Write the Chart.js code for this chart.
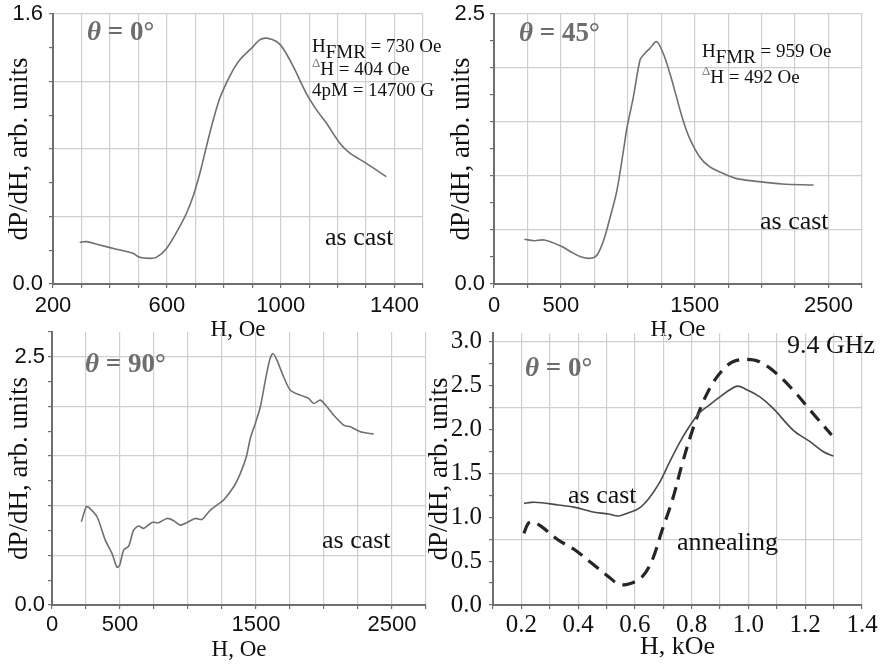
<!DOCTYPE html>
<html>
<head>
<meta charset="utf-8">
<script src="https://cdn.jsdelivr.net/npm/chart.js@4.4.1/dist/chart.umd.min.js"></script>
<style>
  body { margin: 0; background: #fff; }
  #wrap { position: relative; width: 884px; height: 664px; }
  canvas { position: absolute; left: 0; top: 0; }
</style>
</head>
<body>
<div id="wrap">
  <canvas id="c1" width="884" height="664"></canvas>
  <canvas id="c2" width="884" height="664"></canvas>
  <canvas id="c3" width="884" height="664"></canvas>
  <canvas id="c4" width="884" height="664"></canvas>
</div>
<script>
// theta = 0, as cast (H in Oe)
const h1 = [294, 318, 364, 423, 481, 505, 540, 563, 599, 645, 669, 692, 716, 739, 763, 786, 809, 833, 856, 903, 926, 950, 985, 1008, 1044, 1090, 1126, 1161, 1208, 1243, 1301, 1371];
const v1 = [0.247, 0.251, 0.231, 0.206, 0.182, 0.158, 0.152, 0.158, 0.211, 0.340, 0.419, 0.518, 0.656, 0.814, 0.972, 1.101, 1.190, 1.269, 1.328, 1.407, 1.447, 1.457, 1.437, 1.397, 1.289, 1.130, 1.032, 0.953, 0.834, 0.775, 0.715, 0.636];

// theta = 45, as cast
const h2 = [227, 301, 375, 499, 573, 647, 721, 770, 820, 869, 919, 968, 993, 1042, 1091, 1116, 1165, 1215, 1264, 1314, 1363, 1412, 1462, 1536, 1610, 1684, 1807, 1980, 2153, 2388];
const v2 = [0.414, 0.401, 0.407, 0.352, 0.299, 0.253, 0.238, 0.269, 0.407, 0.623, 0.870, 1.241, 1.441, 1.735, 2.074, 2.120, 2.182, 2.244, 2.136, 1.951, 1.735, 1.519, 1.349, 1.179, 1.086, 1.040, 0.978, 0.948, 0.926, 0.917];

// theta = 90, as cast
const h3 = [216, 252, 270, 331, 392, 441, 478, 498, 527, 564, 600, 637, 674, 735, 784, 846, 895, 944, 993, 1054, 1103, 1164, 1213, 1262, 1336, 1385, 1429, 1458, 1495, 1532, 1569, 1600, 1625, 1654, 1703, 1752, 1826, 1887, 1924, 1973, 2022, 2071, 2145, 2194, 2267, 2365];
const v3 = [0.839, 0.990, 0.983, 0.889, 0.654, 0.520, 0.379, 0.403, 0.554, 0.594, 0.755, 0.795, 0.772, 0.832, 0.829, 0.872, 0.849, 0.805, 0.832, 0.872, 0.862, 0.956, 1.007, 1.057, 1.191, 1.326, 1.493, 1.678, 1.829, 1.997, 2.265, 2.466, 2.534, 2.466, 2.299, 2.164, 2.114, 2.081, 2.030, 2.064, 1.997, 1.913, 1.812, 1.795, 1.745, 1.721];

// 9.4 GHz, theta = 0 (H in kOe)
const hCast = [0.209, 0.235, 0.271, 0.330, 0.389, 0.448, 0.507, 0.543, 0.578, 0.614, 0.649, 0.685, 0.720, 0.756, 0.791, 0.826, 0.862, 0.897, 0.933, 0.962, 0.992, 1.039, 1.087, 1.157, 1.217, 1.264, 1.299];
const vCast = [1.158, 1.170, 1.166, 1.139, 1.113, 1.063, 1.037, 1.014, 1.052, 1.101, 1.215, 1.386, 1.614, 1.842, 2.032, 2.184, 2.279, 2.366, 2.450, 2.495, 2.457, 2.374, 2.241, 1.994, 1.861, 1.747, 1.698];
const hAnneal = [0.209, 0.224, 0.241, 0.271, 0.330, 0.389, 0.448, 0.507, 0.543, 0.578, 0.626, 0.661, 0.696, 0.732, 0.767, 0.803, 0.838, 0.874, 0.909, 0.945, 0.992, 1.039, 1.098, 1.157, 1.217, 1.293];
const vAnneal = [0.817, 0.930, 0.949, 0.893, 0.741, 0.627, 0.475, 0.323, 0.239, 0.239, 0.323, 0.513, 0.855, 1.196, 1.614, 1.994, 2.298, 2.526, 2.678, 2.772, 2.799, 2.772, 2.640, 2.450, 2.222, 1.937];

// tick labels
const x1Labels = [200, 600, 1000, 1400];
const y1Labels = [0, 1.6];
const xOeLabels = [0, 500, 1500, 2500];
const y25Labels = [0, 2.5];
const x4Labels = [0.2, 0.4, 0.6, 0.8, 1.0, 1.2, 1.4];
const y4Labels = [0, 0.5, 1.0, 1.5, 2.0, 2.5, 3.0];

const SERIF = '"Liberation Serif", "Times New Roman", serif';
const SANS = '"Liberation Sans", Arial, sans-serif';
const axisCol = '#6f6f6f';
const gridCol = '#cfcfcf';
const curveCol = '#707070';
const yTitle = 'dP/dH, arb. units';

const hasVal = (list, v) => list.some(l => Math.abs(l - v) < 1e-6);
const gridAt = (v, every) => Math.abs(v / every - Math.round(v / every)) < 1e-6 ? gridCol : 'rgba(0,0,0,0)';

// text drawn on top of the plot, offsets from chart area top-left
function notes(list) {
  return {
    id: 'notes',
    afterDraw(chart) {
      const { ctx, chartArea } = chart;
      ctx.save();
      ctx.textBaseline = 'alphabetic';
      ctx.textAlign = 'left';
      list.forEach(n => {
        let x = chartArea.left + n.dx;
        n.parts.forEach(p => {
          ctx.font = p.font || n.font;
          ctx.fillStyle = p.color || n.color || '#111';
          ctx.fillText(p.t, x, chartArea.top + n.dy + (p.rise || 0));
          x += ctx.measureText(p.t).width;
        });
      });
      ctx.restore();
    }
  };
}

const thetaNote = (deg, dx, dy) => ({
  dx, dy, color: '#6d6d6d', font: 'bold 27px ' + SERIF,
  parts: [{ t: 'θ', font: 'italic bold 27px ' + SERIF }, { t: ' = ' + deg + '°' }]
});
const bigNote = (t, dx, dy) => ({ dx, dy, font: '26px ' + SERIF, parts: [{ t }] });
const small = '19px ' + SERIF;

function axis(o, horizontal) {
  return {
    type: 'linear', min: o.min, max: o.max,
    afterFit: s => {
      if (horizontal) { s.height = o.size; s.paddingLeft = 0; s.paddingRight = 0; }
      else { s.width = o.size; s.paddingTop = 0; s.paddingBottom = 0; }
    },
    grid: {
      color: c => gridAt(c.tick.value, o.grid), lineWidth: 1.2,
      tickLength: 4, tickColor: axisCol, tickWidth: 1.2
    },
    border: { color: axisCol, width: 2 },
    ticks: {
      stepSize: o.step, autoSkip: false, maxRotation: 0, minRotation: 0, includeBounds: false,
      padding: o.tickPad, font: o.tickFont, color: '#111',
      callback: v => hasVal(o.labels, v) ? v.toFixed(o.dec) : ''
    },
    title: {
      display: true, text: o.title, color: '#111',
      font: { family: SERIF, size: o.titleSize, lineHeight: 1 },
      padding: horizontal ? { top: 0, bottom: o.titlePad } : { top: o.titlePad, bottom: 0 }
    }
  };
}

function panel(id, o) {
  new Chart(document.getElementById(id), {
    type: 'line',
    data: {
      datasets: o.series.map(s => ({
        data: s.x.map((x, i) => ({ x, y: s.y[i] })),
        borderColor: s.color, borderWidth: s.width, borderDash: s.dash || [],
        pointRadius: 0, tension: s.tension, fill: false
      }))
    },
    options: {
      responsive: false, animation: false, devicePixelRatio: 1, events: [],
      layout: { padding: o.pad },
      plugins: { legend: { display: false }, tooltip: { enabled: false } },
      scales: { x: axis(o.x, true), y: axis(o.y, false) }
    },
    plugins: [notes(o.notes)]
  });
}

const sansTick = { family: SANS, size: 22 };

panel('c1', {
  pad: { left: 0, top: 14, right: 461, bottom: 320 },
  series: [{ x: h1, y: v1, color: curveCol, width: 1.6, tension: 0.35 }],
  x: { min: 200, max: 1500, step: 100, grid: 100, labels: x1Labels, dec: 0, size: 60, tickPad: 5, tickFont: sansTick, title: 'H, Oe', titleSize: 23, titlePad: 2.5 },
  y: { min: 0, max: 1.6, step: 0.2, grid: 0.4, labels: y1Labels, dec: 1, size: 53, tickPad: 6, tickFont: sansTick, title: yTitle, titleSize: 27, titlePad: 6.5 },
  notes: [
    thetaNote(0, 34, 26),
    bigNote('as cast', 272, 231),
    { dx: 259, dy: 38, font: small, parts: [{ t: 'H' }, { t: 'FMR', rise: 6 }, { t: ' = 730 Oe' }] },
    { dx: 259, dy: 61, font: small, parts: [{ t: 'Δ', font: '13px ' + SERIF, color: '#777', rise: -8 }, { t: 'H = 404 Oe' }] },
    { dx: 259, dy: 82, font: small, parts: [{ t: '4pM = 14700 G' }] }
  ]
});

panel('c2', {
  pad: { left: 442, top: 14, right: 22, bottom: 320 },
  series: [{ x: h2, y: v2, color: curveCol, width: 1.6, tension: 0.35 }],
  x: { min: 0, max: 2750, step: 250, grid: 250, labels: xOeLabels, dec: 0, size: 60, tickPad: 5, tickFont: sansTick, title: 'H, Oe', titleSize: 23, titlePad: 2.5 },
  y: { min: 0, max: 2.5, step: 0.25, grid: 0.5, labels: y25Labels, dec: 1, size: 52, tickPad: 5, tickFont: sansTick, title: yTitle, titleSize: 27, titlePad: 6.5 },
  notes: [
    thetaNote(45, 25, 27),
    bigNote('as cast', 266, 215),
    { dx: 208, dy: 43, font: small, parts: [{ t: 'H' }, { t: 'FMR', rise: 6 }, { t: ' = 959 Oe' }] },
    { dx: 208, dy: 69, font: small, parts: [{ t: 'Δ', font: '13px ' + SERIF, color: '#777', rise: -8 }, { t: 'H = 492 Oe' }] }
  ]
});

panel('c3', {
  pad: { left: 0, top: 332, right: 458, bottom: 1 },
  series: [{ x: h3, y: v3, color: curveCol, width: 1.6, tension: 0.25 }],
  x: { min: 0, max: 2750, step: 250, grid: 250, labels: xOeLabels, dec: 0, size: 58, tickPad: 3, tickFont: sansTick, title: 'H, Oe', titleSize: 23, titlePad: 1.5 },
  y: { min: 0, max: 2.75, step: 0.25, grid: 0.5, labels: y25Labels, dec: 1, size: 52, tickPad: 3, tickFont: sansTick, title: yTitle, titleSize: 27, titlePad: 6.5 },
  notes: [
    thetaNote(90, 33, 40),
    bigNote('as cast', 270, 216)
  ]
});

panel('c4', {
  pad: { left: 426, top: 333, right: 22, bottom: 1 },
  series: [
    { x: hCast, y: vCast, color: '#4a4a4a', width: 1.6, tension: 0.35 },
    { x: hAnneal, y: vAnneal, color: '#262626', width: 3.2, dash: [13, 8], tension: 0.35 }
  ],
  x: { min: 0.1, max: 1.4, step: 0.1, grid: 0.1, labels: x4Labels, dec: 1, size: 58, tickPad: 1, tickFont: { family: SERIF, size: 25 }, title: 'H, kOe', titleSize: 26, titlePad: 3 },
  y: { min: 0, max: 3.1, step: 0.25, grid: 0.75, labels: y4Labels, dec: 1, size: 67, tickPad: 7, tickFont: { family: SERIF, size: 25 }, title: yTitle, titleSize: 27, titlePad: 0 },
  notes: [
    thetaNote(0, 32, 43),
    bigNote('9.4 GHz', 294, 20),
    bigNote('as cast', 75, 170),
    bigNote('annealing', 184, 217)
  ]
});
</script>
</body>
</html>
